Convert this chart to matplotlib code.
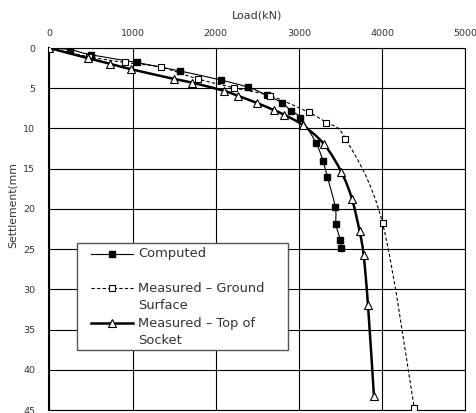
import numpy as np
import matplotlib
matplotlib.use("Agg")
import matplotlib.pyplot as plt
from matplotlib.path import Path
from matplotlib.patches import PathPatch, Rectangle
from matplotlib.lines import Line2D

# load (kN) / settlement (mm) for each series
computed_load = [0, 248, 505, 1049, 1570, 2061, 2393, 2611, 2791, 2905, 3019,
                 3205, 3289, 3342, 3438, 3446, 3498, 3506]
computed_settle = [0, 0.2, 0.85, 1.8, 2.86, 3.98, 4.89, 5.85, 6.8, 7.8, 8.7,
                   11.78, 14.05, 16.0, 19.8, 21.9, 23.9, 24.9]

ground_load = [0, 480, 909, 1345, 1785, 2221, 2657, 3117, 3330, 3560, 4006, 4386]
ground_settle = [0, 1.1, 1.8, 2.4, 3.85, 4.95, 5.95, 8.0, 9.3, 11.25, 21.8, 44.7]

socket_load = [0, 470, 733, 981, 1493, 1713, 2099, 2265, 2500, 2695, 2823,
               3045, 3301, 3510, 3637, 3730, 3778, 3830, 3902]
socket_settle = [0, 1.28, 1.97, 2.63, 3.83, 4.3, 5.32, 5.93, 6.85, 7.7, 8.3,
                 9.58, 11.94, 15.4, 18.74, 22.8, 25.75, 31.9, 43.3]

W, H = 477, 413
TXT = "#333333"


def px(x, y):
    # pixel position -> figure fraction
    return x / W, 1 - y / H


def smooth_path(x, y):
    # catmull-rom style bezier through the points (spreadsheet "smoothed line")
    pts = np.column_stack([x, y]).astype(float)
    n = len(pts)
    verts = [pts[0]]
    codes = [Path.MOVETO]
    for i in range(n - 1):
        p0 = pts[i - 1] if i > 0 else pts[i]
        p1 = pts[i]
        p2 = pts[i + 1]
        p3 = pts[i + 2] if i + 2 < n else pts[i + 1]
        verts += [p1 + (p2 - p0) / 6, p2 - (p3 - p1) / 6, p2]
        codes += [Path.CURVE4] * 3
    return Path(verts, codes)


fig = plt.figure(figsize=(W / 100, H / 100), dpi=100)
x0, y0 = px(49.3, 410)
x1, y1 = px(465.3, 48)
ax = fig.add_axes([x0, y0, x1 - x0, y1 - y0])

series = [
    (computed_load, computed_settle,
     dict(ls="-", lw=0.8), dict(marker="s", ms=5, mfc="black", mec="black")),
    (ground_load, ground_settle,
     dict(ls=(0, (3, 2)), lw=0.8), dict(marker="s", ms=5, mfc="white", mec="black", mew=0.8)),
    (socket_load, socket_settle,
     dict(ls="-", lw=1.8), dict(marker="^", ms=5.5, mfc="white", mec="black", mew=0.8)),
]

z = 3
for xs, ys, lstyle, mstyle in series:
    ax.add_patch(PathPatch(smooth_path(xs, ys), fill=False, edgecolor="black",
                           linestyle=lstyle["ls"], lw=lstyle["lw"], zorder=z))
    ax.plot(xs, ys, linestyle="none", zorder=z + 0.5, **mstyle)
    z += 1

ax.set_xlim(0, 5000)
ax.set_ylim(45, 0)
ax.set_xticks(np.arange(0, 5001, 1000))
ax.set_yticks(np.arange(0, 46, 5))
ax.xaxis.tick_top()
ax.tick_params(axis="x", length=0, pad=7.5, labelsize=6.8, labelcolor=TXT)
ax.tick_params(axis="y", length=0, pad=10, labelsize=6.8, labelcolor=TXT)
ax.grid(True, color="black", lw=0.8)
ax.set_axisbelow(True)
for side in ["top", "right", "bottom"]:
    ax.spines[side].set_linewidth(0.8)
ax.spines["left"].set_linewidth(1.5)

fig.text(*px(257, 15), "Load(kN)", ha="center", va="center", fontsize=8, color=TXT)
fig.text(*px(13, 205), "Settlement(mm", ha="center", va="center", rotation=90,
         fontsize=7.8, color=TXT)

# legend box, drawn by hand so the handles sit on the first text line
lx0, ly0 = px(76.7, 350)
lx1, ly1 = px(288.3, 243.3)
fig.add_artist(Rectangle((lx0, ly0), lx1 - lx0, ly1 - ly0, transform=fig.transFigure,
                         facecolor="white", edgecolor="#555555", lw=1, zorder=10))

entries = [
    (254, ["Computed"], series[0]),
    (288.3, ["Measured \u2013 Ground", "Surface"], series[1]),
    (323.3, ["Measured \u2013 Top of", "Socket"], series[2]),
]
for ypix, lines, (_, _, lstyle, mstyle) in entries:
    hx0, hy = px(90.7, ypix)
    hx1, _ = px(133.3, ypix)
    fig.add_artist(Line2D([hx0, hx1], [hy, hy], transform=fig.transFigure,
                          color="black", ls=lstyle["ls"], lw=lstyle["lw"], zorder=11))
    fig.add_artist(Line2D([(hx0 + hx1) / 2], [hy], transform=fig.transFigure,
                          ls="none", zorder=12, **mstyle))
    for k, line in enumerate(lines):
        fig.text(*px(138.3, ypix + 17 * k), line, ha="left", va="center",
                 fontsize=9.4, color=TXT, zorder=13)

fig.savefig("out.png", dpi=100)
